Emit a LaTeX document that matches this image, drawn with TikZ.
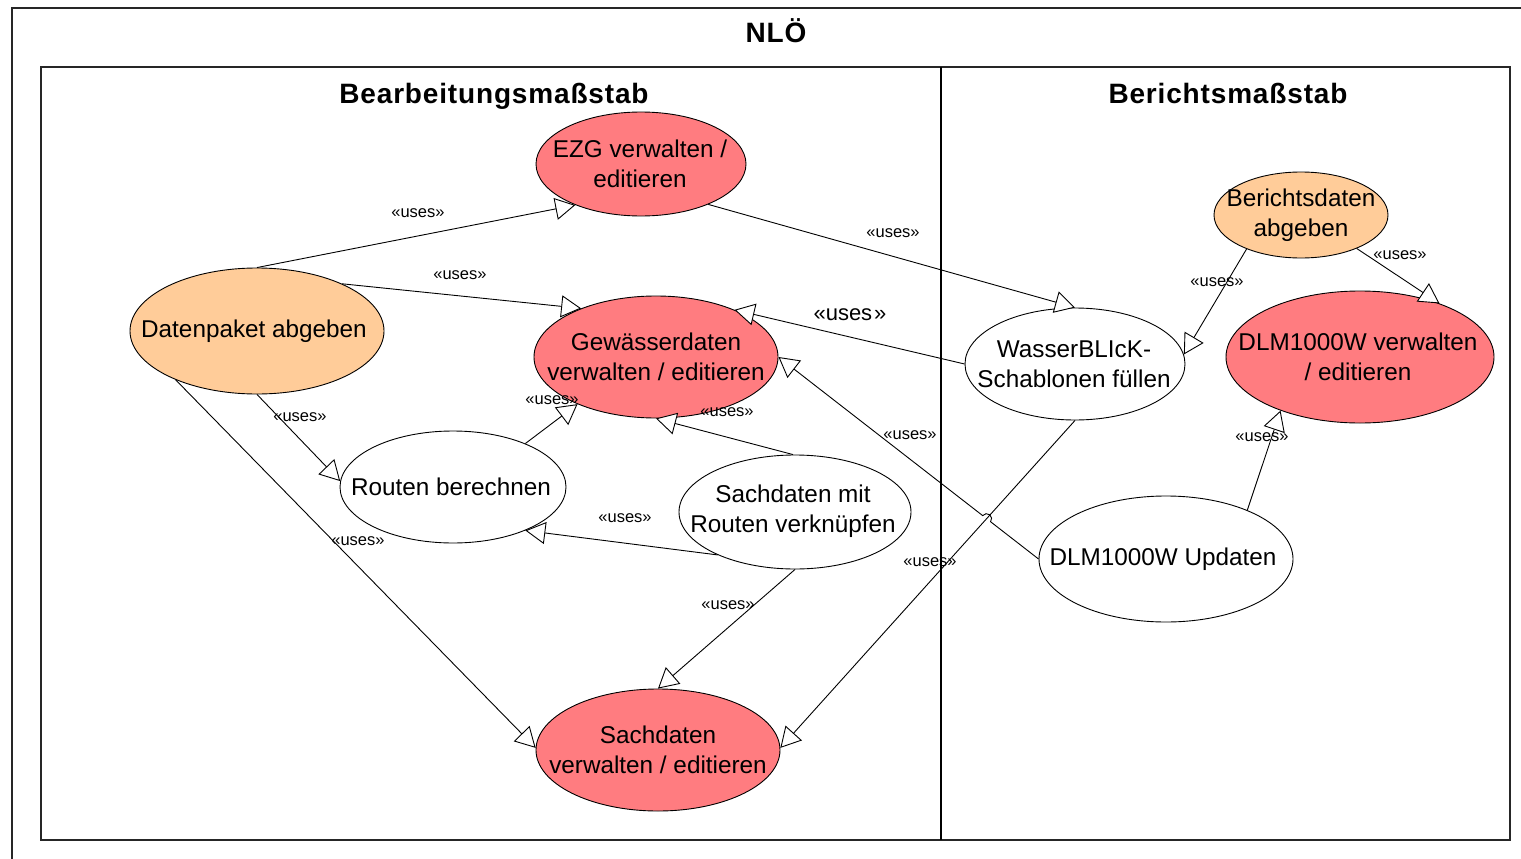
\documentclass[tikz,border=0pt]{standalone}
\usepackage{fontspec}
\setmainfont{Liberation Sans}
\newfontfamily\titlefont[LetterSpace=3]{Liberation Sans}
\usetikzlibrary{arrows.meta,calc,intersections,shapes.geometric}

\definecolor{ucred}{RGB}{255,124,128}
\definecolor{ucorange}{RGB}{255,204,153}

\tikzset{
  x=1pt, y=1pt,
  uc/.style={ellipse, draw=black, line width=0.9pt, inner sep=0pt, fill=white},
  ucr/.style={uc, fill=ucred},
  uco/.style={uc, fill=ucorange},
  uctext/.style={align=center, inner sep=0pt, font=\fontsize{24.3}{30}\selectfont},
  usesline/.style={draw=black, line width=0.9pt,
    -{Triangle[open, length=20pt, width=22pt, fill=white, line width=0.9pt]}},
  stereo/.style={inner sep=0pt, font=\fontsize{16.5}{18}\selectfont},
  bigstereo/.style={inner sep=0pt, font=\fontsize{22}{24}\selectfont},
  frametitle/.style={inner sep=0pt, anchor=base, font=\fontsize{28}{32}\titlefont\bfseries},
  frameline/.style={draw=black!85, line width=1.6pt},
}

\begin{document}
\begin{tikzpicture}[line join=miter]
  \useasboundingbox (0,0) rectangle (1521,-859);
  \clip (0,0) rectangle (1521,-859);
  \fill[white] (0,0) rectangle (1521,-859);

  % outer package frame and inner frame with its divider
  \draw[frameline, line width=1.4pt] (12,-8) rectangle (1540,-880);
  \draw[frameline] (41,-67) rectangle (1510,-840);
  \draw[frameline, draw=black, line width=1.4pt] (941,-67) -- (941,-840);

  \node[frametitle] (tnlo) at (776,-43) {NLÖ};
  \node[frametitle] (tbearb) at (494,-103) {Bearbeitungsmaßstab};
  \node[frametitle] (tber) at (1228,-103) {Berichtsmaßstab};

  % use cases
  \node[ucr, minimum width=210, minimum height=104] (ezg) at (641,-164) {};
  \node[ucr, minimum width=244, minimum height=122] (gw)  at (656,-357) {};
  \node[uco, minimum width=254, minimum height=126] (dp)  at (257,-331) {};
  \node[uc,  minimum width=226, minimum height=112] (rb)  at (453,-487) {};
  \node[uc,  minimum width=232, minimum height=114] (sm)  at (795,-512) {};
  \node[ucr, minimum width=244, minimum height=122] (sv)  at (658,-750) {};
  \node[uc,  minimum width=220, minimum height=112] (wb)  at (1075,-364) {};
  \node[uco, minimum width=174, minimum height=86]  (bd)  at (1301,-215) {};
  \node[ucr, minimum width=268, minimum height=132] (dv)  at (1360,-357) {};
  \node[uc,  minimum width=254, minimum height=126] (du)  at (1166,-559) {};

  \node[uctext] (ezg-t) at (640,-164) {EZG verwalten /\\editieren};
  \node[uctext] (gw-t)  at (gw)  {Gewässerdaten\\verwalten / editieren};
  \node[uctext] (dp-t)  at (254,-331) {Datenpaket abgeben};
  \node[uctext] (rb-t)  at (451,-487) {Routen berechnen};
  \node[uctext] (sm-t)  at (793,-511) {Sachdaten mit\\Routen verknüpfen};
  \node[uctext] (sv-t)  at (sv)  {Sachdaten\\verwalten / editieren};
  \node[uctext] (wb-t)  at (1074,-364) {WasserBLIcK-\\Schablonen füllen};
  \node[uctext] (bd-t)  at (bd)  {Berichtsdaten\\abgeben};
  \node[uctext] (dv-t)  at (1358,-357) {DLM1000W verwalten\\/ editieren};
  \node[uctext] (du-t)  at (1163,-559) {DLM1000W Updaten};

  % include relations
  \draw[usesline] (dp.90)  -- (ezg.212);
  \draw[usesline] (dp.29)  -- (gw.147);
  \draw[usesline] (ezg.329) -- (wb.90);
  \draw[usesline] (wb.180) -- (gw.31);
  \draw[usesline] (bd.212) -- (wb.5);
  \draw[usesline] (bd.329) -- (dv.34);
  \draw[usesline] (dp.270) -- (rb.177);
  \draw[usesline] (rb.31)  -- (gw.211);
  \draw[usesline] (sm.92)  -- (gw.270);
  \draw[usesline] (sm.209) -- (rb.329);
  \draw[usesline] (dp.211) -- (sv.179);
  \draw[usesline] (sm.270) -- (sv.90);
  \draw[usesline, name path=e13] (wb.270) -- (sv.1);
  \draw[usesline] (du.31) -- (dv.214);

  % the Updaten relation hops over the WasserBLIcK line
  \path[name path=e14] (du.180) -- (gw.0);
  \path[name intersections={of=e13 and e14, by=hx}];
  \draw[usesline] let \p1 = ($(gw.0)-(du.180)$), \n1 = {atan2(\y1,\x1)} in
    (du.180) -- ($(hx)!5pt!(du.180)$)
    arc[start angle=\n1+180, end angle=\n1+360, radius=5pt] -- (gw.0);

  % stereotype labels
  \node[stereo] (l1)  at (418,-213) {«uses»};
  \node[stereo] (l2)  at (460,-275) {«uses»};
  \node[stereo] (l3)  at (893,-233) {«uses»};
  \node[bigstereo] (l4) at (850,-315) {«uses\hspace{2pt}»};
  \node[stereo] (l5)  at (1217,-282) {«uses»};
  \node[stereo] (l6)  at (1400,-255) {«uses»};
  \node[stereo] (l7)  at (300,-417) {«uses»};
  \node[stereo] (l8)  at (552,-400) {«uses»};
  \node[stereo] (l9)  at (727,-412) {«uses»};
  \node[stereo] (l10) at (625,-518) {«uses»};
  \node[stereo] (l11) at (358,-541) {«uses»};
  \node[stereo] (l12) at (728,-605) {«uses»};
  \node[stereo] (l13) at (930,-562) {«uses»};
  \node[stereo] (l14) at (910,-435) {«uses»};
  \node[stereo] (l15) at (1262,-437) {«uses»};
\end{tikzpicture}
\end{document}
